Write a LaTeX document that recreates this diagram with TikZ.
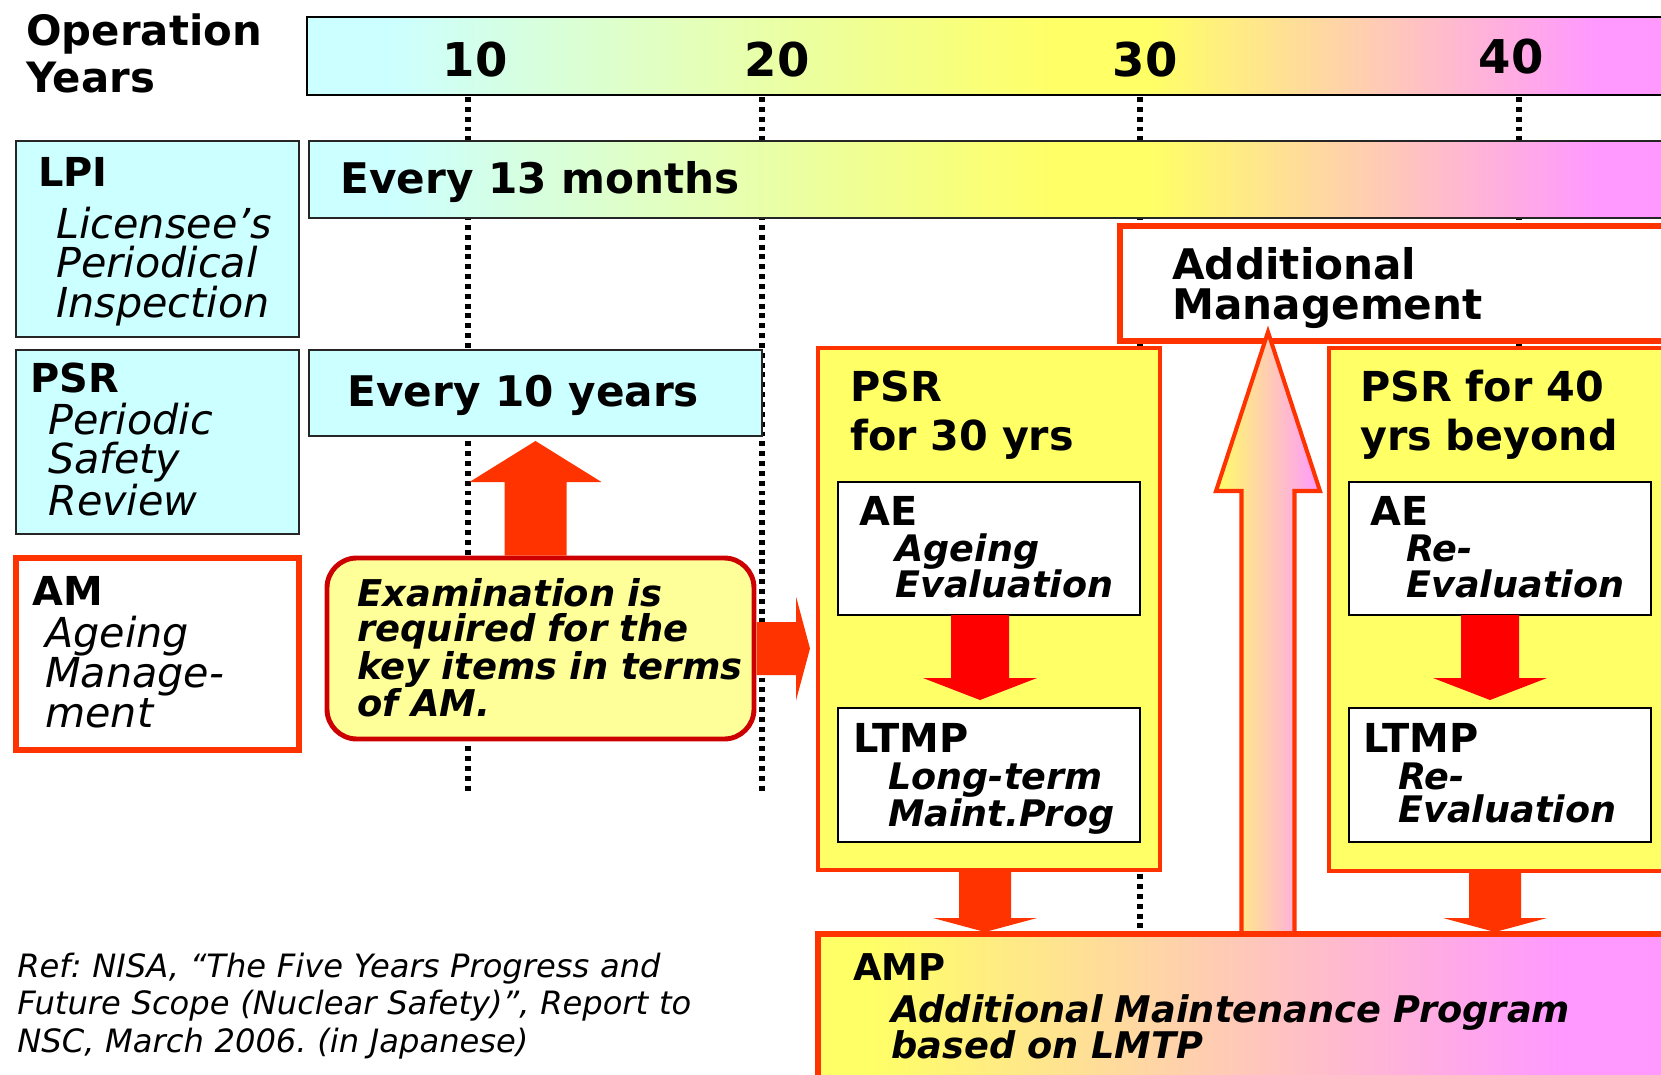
\documentclass[tikz,border=0pt]{standalone}
\usepackage{fontspec}
\setmainfont{DejaVu Sans}
\usetikzlibrary{positioning,calc,fit}
\definecolor{lcyan}{RGB}{204,255,255}
\definecolor{lyellow}{RGB}{255,255,102}
\definecolor{lmagenta}{RGB}{255,153,255}
\definecolor{amred}{RGB}{255,51,0}
\definecolor{examfill}{RGB}{255,255,153}
\definecolor{examline}{RGB}{204,0,0}
\pgfdeclarehorizontalshading{yearbar}{100bp}{color(0bp)=(lcyan); color(28bp)=(lcyan); color(52bp)=(lyellow); color(55.5bp)=(lyellow); color(71.5bp)=(lmagenta); color(100bp)=(lmagenta)}
\pgfdeclarehorizontalshading{ampbar}{100bp}{color(0bp)=(lyellow); color(28bp)=(lyellow); color(67.5bp)=(lmagenta); color(100bp)=(lmagenta)}
% block arrows: options, tail, tip, shaft half width, head half width, head length
\newcommand{\vblock}[6]{\path[#1] ($(#2)+(-#4,0)$) -- ($(#3)+(-#4,#6)$) -- ($(#3)+(-#5,#6)$) -- (#3) -- ($(#3)+(#5,#6)$) -- ($(#3)+(#4,#6)$) -- ($(#2)+(#4,0)$) -- cycle;}
\newcommand{\hblock}[6]{\path[#1] ($(#2)+(0,-#4)$) -- ($(#3)+(#6,-#4)$) -- ($(#3)+(#6,-#5)$) -- (#3) -- ($(#3)+(#6,#5)$) -- ($(#3)+(#6,#4)$) -- ($(#2)+(0,#4)$) -- cycle;}

\begin{document}
\frenchspacing
\begin{tikzpicture}[x=0.02cm,y=-0.02cm,
  bx/.style={inner sep=0pt,outer sep=0pt},
  cyanbox/.style={bx,draw=black!85,line width=1.1pt,fill=lcyan},
  orbox/.style={bx,draw=amred,line width=3pt},
  inbox/.style={bx,draw=black,line width=1.1pt,fill=white},
  yearline/.style={line width=3.2pt,dash pattern=on 2.8pt off 2.8pt},
  yearnum/.style={inner sep=0pt,anchor=base,font=\fontsize{26.5}{30}\selectfont\bfseries},
  ml/.style={text width=20cm,align=left},
  bigtxt/.style={inner sep=0pt,anchor=base west,font=\fontsize{24}{23.2}\selectfont\bfseries},
  lbl/.style={inner sep=0pt,anchor=base west,font=\fontsize{22.7}{28}\selectfont\bfseries},
  sub/.style={inner sep=0pt,anchor=base west,ml,font=\fontsize{23.5}{22.7}\selectfont\itshape},
  bi/.style={inner sep=0pt,anchor=base west,ml,font=\fontsize{20.8}{21}\selectfont\bfseries\itshape},
]
\clip (0,0) rectangle (1661,1075);
% year scale
\node[bx,draw,line width=1.7pt,shade,shading=yearbar,fit={(307,17) (1690,95)}] (years) {};
\foreach \yx/\yend in {468/792,762/792,1140/930,1519/860}
  \draw[yearline] (\yx,97) -- (\yx,\yend);
\node[yearnum] (y10) at (475,76) {10};
\node[yearnum] (y20) at (777,76) {20};
\node[yearnum] (y30) at (1145,76) {30};
\node[yearnum] (y40) at (1511,73) {40};
\node[inner sep=0pt,anchor=base west,ml,font=\fontsize{23.8}{27.2}\selectfont\bfseries] (opyears) at (26,45) {Operation\\Years};

% LPI
\node[cyanbox,fit={(16,141) (299,337)}] (lpi) {};
\node[lbl] (lpit) at (38,186) {LPI};
\node[sub] (lpis) at (56,238) {Licensee’s\\Periodical\\Inspection};
\node[bx,draw=black!85,line width=1.1pt,shade,shading=yearbar,fit={(309,141) (1690,218)}] (months) {};
\node[bigtxt] (monthst) at (340,193) {Every 13 months};

% PSR
\node[cyanbox,fit={(16,350) (299,534)}] (psr) {};
\node[lbl] (psrt) at (30,392.5) {PSR};
\node[sub] (psrs) at (48,434) {Periodic\\Safety\\Review};
\node[cyanbox,fit={(309,350) (762,436)}] (tenyrs) {};
\node[bigtxt] (tenyrst) at (347,406) {Every 10 years};

% AM
\node[orbox,fill=white,line width=3.2pt,fit={(16,558) (299,750)}] (am) {};
\node[lbl] (amt) at (32,605) {AM};
\node[sub] (ams) at (45,647.5) {Ageing\\Manage-\\ment};
\node[bx,draw=examline,line width=2.8pt,fill=examfill,rounded corners=17pt,fit={(327,558) (754,739)}] (exam) {};
\node[inner sep=0pt,anchor=base west,ml,font=\fontsize{21}{20}\selectfont\bfseries\itshape] (examt) at (357,606.5) {Examination is\\required for the\\key items in terms\\of AM.};

% PSR for 30 / 40 years
\node[orbox,fill=white,fit={(1120,226) (1690,341)}] (addm) {};
\node[bigtxt,ml] (addmt) at (1172,279) {Additional\\Management};
\node[orbox,fill=lyellow,line width=2.8pt,fit={(818,348) (1160,870)}] (psr30) {};
\node[lbl,ml,font=\fontsize{23.5}{28.3}\selectfont\bfseries] (psr30t) at (850,401) {PSR\\for 30 yrs};
\node[inbox,fit={(838,482) (1140,615)}] (ae30) {};
\node[lbl] (ae30t) at (859,525) {AE};
\node[bi] (ae30s) at (895,561) {Ageing\\Evaluation};
\node[inbox,fit={(838,708) (1140,842)}] (ltmp30) {};
\node[lbl] (ltmp30t) at (853,752) {LTMP};
\node[bi,font=\fontsize{20.8}{19.3}\selectfont\bfseries\itshape] (ltmp30s) at (888,789) {Long-term\\Maint.Prog};

\node[orbox,fill=lyellow,line width=2.8pt,fit={(1329,348) (1690,871)}] (psr40) {};
\node[lbl,ml,font=\fontsize{23.5}{28.3}\selectfont\bfseries] (psr40t) at (1360,401) {PSR for 40\\yrs beyond};
\node[inbox,fit={(1349,482) (1651,615)}] (ae40) {};
\node[lbl] (ae40t) at (1370,525) {AE};
\node[bi] (ae40s) at (1406,561) {Re-\\Evaluation};
\node[inbox,fit={(1349,708) (1651,842)}] (ltmp40) {};
\node[lbl] (ltmp40t) at (1363,752) {LTMP};
\node[bi,font=\fontsize{20.8}{19.3}\selectfont\bfseries\itshape] (ltmp40s) at (1398,789) {Re-\\Evaluation};

% block arrows
\coordinate (upT) at ($(exam.north -| tenyrs.south)+(0,-2.5)$);
\coordinate (upH) at ($(tenyrs.south)+(0,5)$);
\vblock{fill=amred}{upT}{upH}{31}{66}{41}
\coordinate (rtT) at ($(exam.east)+(2.5,0)$);
\coordinate (rtH) at ($(exam.east -| psr30.west)+(-8,0)$);
\hblock{fill=amred}{rtT}{rtH}{26.5}{52}{-14}
\coordinate (ae30T) at ($(ae30.south)+(-9,0)$);
\coordinate (ae30H) at ($(ltmp30.north)+(-9,-8)$);
\vblock{fill=red}{ae30T}{ae30H}{29}{57}{-22}
\coordinate (ae40T) at ($(ae40.south)+(-10,0)$);
\coordinate (ae40H) at ($(ltmp40.north)+(-10,-8)$);
\vblock{fill=red}{ae40T}{ae40H}{29}{57}{-22}

% AMP
\coordinate (gT) at (1268,934);
\coordinate (gH) at ($(addm.south -| gT)+(0,-9)$);
\vblock{draw=amred,line width=2.3pt,left color=lyellow,right color=lmagenta}{gT}{gH}{26.5}{52}{159}
\node[bx,draw=amred,line width=3pt,shade,shading=ampbar,fit={(818,934) (1690,1100)}] (amp) {};
\coordinate (p30T) at ($(psr30.south)+(-4,0)$);
\coordinate (p30H) at ($(psr30.south |- amp.north)+(-4,-2)$);
\vblock{fill=amred}{p30T}{p30H}{26}{52}{-14}
\coordinate (p40T) at ($(psr40.south)+(-14.5,0)$);
\coordinate (p40H) at ($(psr40.south |- amp.north)+(-14.5,-2)$);
\vblock{fill=amred}{p40T}{p40H}{26}{52}{-14}
\node[lbl,font=\fontsize{21}{25}\selectfont\bfseries] (ampt) at (853,980) {AMP};
\node[bi,font=\fontsize{20.9}{21}\selectfont\bfseries\itshape] (amps) at (891,1022) {Additional Maintenance Program\\based on LMTP};

% reference
\node[inner sep=0pt,anchor=base west,ml,font=\fontsize{18.3}{21.5}\selectfont\itshape] (ref) at (17,977) {Ref: NISA, “The Five Years Progress and\\Future Scope (Nuclear Safety)”, Report to\\NSC, March 2006. (in Japanese)};
\end{tikzpicture}
\end{document}
